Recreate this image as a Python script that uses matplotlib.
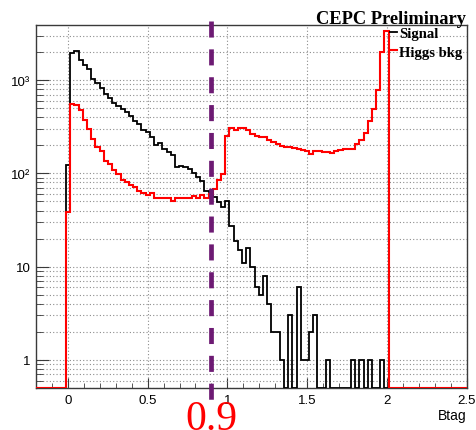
import matplotlib

matplotlib.use("Agg")
import matplotlib.pyplot as plt
import matplotlib.transforms as mtransforms
import numpy as np
from matplotlib.lines import Line2D
from matplotlib.ticker import (FixedFormatter, FixedLocator, FormatStrFormatter, LogLocator,
                               MultipleLocator, NullFormatter)

# btag binning and axis ranges
BIN_LO, BIN_HI, N_BINS = -0.0113, 2.0119, 77
X_RANGE = (-0.2, 2.5)
Y_RANGE = (0.5, 3900)
CUT = 0.9

# bin contents (events per bin)
signal = [123, 1950, 2050, 1640, 1450, 1315, 1030, 930, 820, 710,
          640, 570, 530, 490, 455, 410, 365, 340, 292, 278,
          245, 203, 213, 183, 170, 158, 117, 120, 117, 112,
          100, 92, 83, 65, 63, 56, 49, 44, 51, 27,
          19, 15, 11, 16, 10, 6, 5, 8, 4, 2,
          2, 1, 0, 3, 0, 6, 1, 1, 2, 3,
          0, 0, 1, 0, 0, 0, 0, 0, 1, 0,
          1, 0, 1, 0, 0, 1, 0]
higgs_bkg = [39, 556, 545, 480, 373, 298, 233, 190, 175, 137,
             126, 110, 99, 84, 80, 75, 72, 64, 62, 59,
             62, 55, 54, 55, 54, 51, 54, 54, 54, 54,
             57, 55, 59, 55, 60, 68, 84, 99, 253, 310,
             290, 305, 305, 290, 265, 250, 243, 243, 229, 219,
             207, 195, 190, 190, 187, 183, 179, 172, 162, 173,
             173, 168, 168, 165, 173, 179, 183, 183, 183, 207,
             230, 270, 368, 490, 790, 1990, 3350]

y_ticks = [1, 10, 100, 1000]
y_labels = ["1", "10", "10\u00b2", "10\u00b3"]

SANS = "Liberation Sans"
SERIF = "Liberation Serif"


def stair_arrays(values):
    # empty bins out to the axis edges; zero bins sit on the bottom of the log axis
    edges = np.linspace(BIN_LO, BIN_HI, N_BINS + 1)
    e = np.concatenate([[X_RANGE[0]], edges, [X_RANGE[1]]])
    v = np.concatenate([[0.0], np.asarray(values, float), [0.0]])
    v[v <= 0] = Y_RANGE[0]
    return v, e


plt.rcParams["font.family"] = SANS

fig = plt.figure(figsize=(4.76, 4.31), dpi=100)
ax = fig.add_axes([36 / 476, 1 - 389 / 431, 430.5 / 476, 363 / 431])
ax.set_yscale("log")
ax.set_xlim(*X_RANGE)
ax.set_ylim(*Y_RANGE)

for s in ax.spines.values():
    s.set_color("#3a3a3a")
    s.set_linewidth(1.0)

v, e = stair_arrays(signal)
ax.stairs(v, e, color="black", lw=1.3, baseline=None, zorder=3)
v, e = stair_arrays(higgs_bkg)
ax.stairs(v, e, color="#ff0000", lw=1.5, baseline=None, zorder=4)

# axes, ticks and grid
ax.xaxis.set_major_locator(MultipleLocator(0.5))
ax.xaxis.set_major_formatter(FormatStrFormatter("%g"))
ax.xaxis.set_minor_locator(MultipleLocator(0.1))
ax.yaxis.set_major_locator(FixedLocator(y_ticks))
ax.yaxis.set_major_formatter(FixedFormatter(y_labels))
ax.yaxis.set_minor_locator(LogLocator(base=10, subs=np.arange(2, 10)))
ax.yaxis.set_minor_formatter(NullFormatter())
ax.tick_params(axis="both", which="both", direction="in", color="#3a3a3a",
               labelsize=9.5, top=False, right=False)
ax.tick_params(axis="x", which="major", length=7, pad=4)
ax.tick_params(axis="x", which="minor", length=3.6)
ax.tick_params(axis="y", which="major", length=9.5, pad=4)
ax.tick_params(axis="y", which="minor", length=5)
ax.grid(True, axis="x", which="major", color="#8c8c8c", ls=(0, (1, 2)), lw=0.8)
ax.grid(True, axis="y", which="both", color="#8c8c8c", ls=(0, (1, 2)), lw=0.8)
ax.set_axisbelow(True)

ax.text(1.0, -0.055, "Btag", transform=ax.transAxes, ha="right", va="top",
        fontsize=10, fontfamily=SANS)

# cut line and its value
ax.plot([CUT, CUT], [1.011, -0.036], transform=ax.get_xaxis_transform(),
        color="#6d1a73", lw=3.4, ls=(0, (3.4, 2.5)), clip_on=False,
        solid_capstyle="butt", zorder=6)
cut_tr = mtransforms.blended_transform_factory(ax.transData, fig.transFigure)
ax.text(CUT, 1 / 431, f"{CUT:g}", transform=cut_tr, ha="center", va="baseline",
        color="#ff0000", fontsize=30, fontfamily=SERIF)

fig.text(466.5 / 476, 1 - 23.5 / 431, "CEPC Preliminary", ha="right", va="baseline",
         fontsize=13.3, fontweight="bold", fontfamily=SERIF)

handles = [Line2D([], [], color="black", lw=1.3), Line2D([], [], color="#ff0000", lw=1.5)]
ax.legend(handles, ["Signal", "Higgs bkg"], loc="upper left",
          bbox_to_anchor=(354 / 430.5, 1 - 2 / 363), frameon=False,
          handlelength=0.5, handletextpad=0.1, borderpad=0, borderaxespad=0,
          labelspacing=0.35, prop={"family": SERIF, "weight": "bold", "size": 10.5})

fig.savefig("out.png", dpi=100)
